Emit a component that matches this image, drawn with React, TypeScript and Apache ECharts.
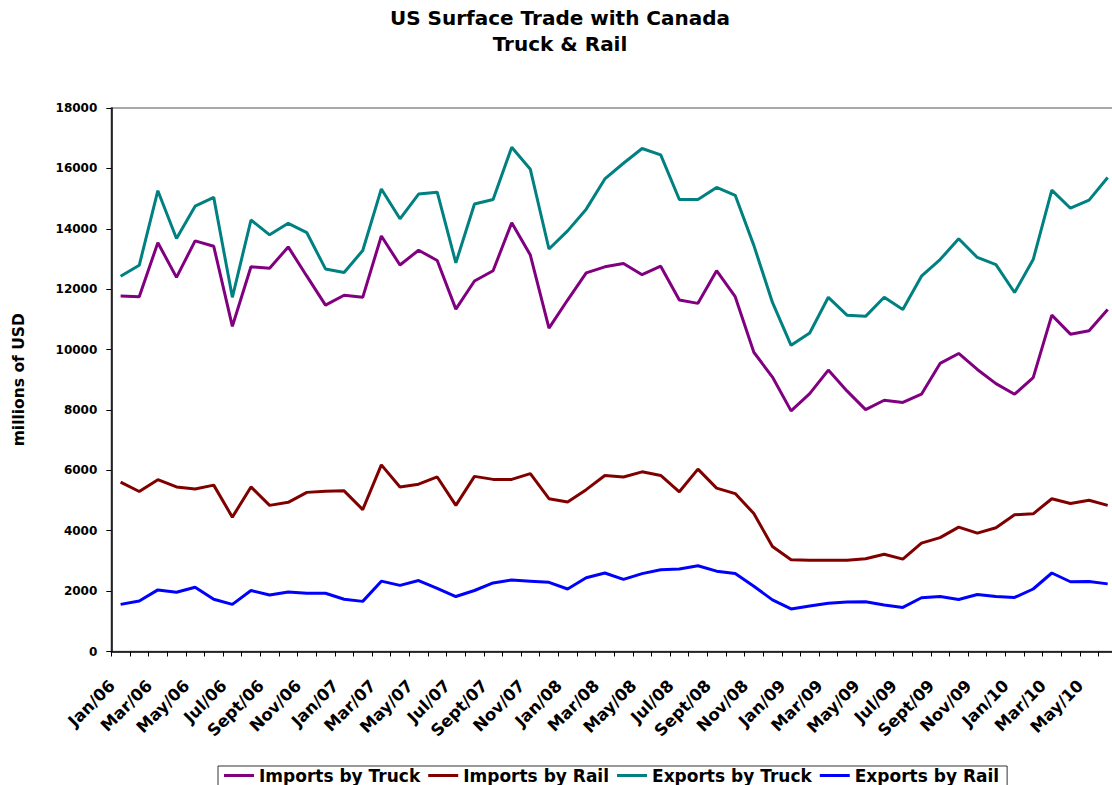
import React, { useEffect, useRef } from "react";
import * as echarts from "echarts";

const months = [
  "Jan/06","Feb/06","Mar/06","Apr/06","May/06","Jun/06","Jul/06","Aug/06","Sept/06","Oct/06","Nov/06","Dec/06",
  "Jan/07","Feb/07","Mar/07","Apr/07","May/07","Jun/07","Jul/07","Aug/07","Sept/07","Oct/07","Nov/07","Dec/07",
  "Jan/08","Feb/08","Mar/08","Apr/08","May/08","Jun/08","Jul/08","Aug/08","Sept/08","Oct/08","Nov/08","Dec/08",
  "Jan/09","Feb/09","Mar/09","Apr/09","May/09","Jun/09","Jul/09","Aug/09","Sept/09","Oct/09","Nov/09","Dec/09",
  "Jan/10","Feb/10","Mar/10","Apr/10","May/10","Jun/10",
];

const importsByTruck = [
  11770, 11750, 13540, 12390, 13600, 13420, 10770, 12740, 12690, 13400, 12430, 11470,
  11800, 11730, 13760, 12800, 13290, 12950, 11340, 12270, 12610, 14200, 13130, 10710,
  11640, 12540, 12740, 12850, 12480, 12760, 11640, 11530, 12610, 11750, 9910, 9090,
  7970, 8540, 9320, 8630, 8010, 8320, 8250, 8520, 9540, 9870, 9340, 8870,
  8520, 9070, 11140, 10510, 10620, 11330,
];

const importsByRail = [
  5610, 5300, 5690, 5450, 5380, 5510, 4450, 5450, 4840, 4940, 5270, 5310,
  5320, 4700, 6180, 5450, 5540, 5780, 4840, 5800, 5700, 5700, 5890, 5060,
  4950, 5360, 5830, 5780, 5950, 5830, 5290, 6040, 5410, 5230, 4570, 3480,
  3040, 3020, 3020, 3020, 3070, 3220, 3060, 3590, 3770, 4120, 3920, 4100,
  4530, 4560, 5060, 4900, 5010, 4840,
];

const exportsByTruck = [
  12430, 12790, 15260, 13680, 14750, 15040, 11730, 14290, 13800, 14180, 13870, 12670,
  12550, 13280, 15320, 14330, 15150, 15210, 12870, 14820, 14970, 16700, 15970, 13330,
  13930, 14650, 15650, 16170, 16660, 16450, 14970, 14970, 15370, 15110, 13450, 11560,
  10140, 10550, 11730, 11140, 11100, 11730, 11330, 12430, 12980, 13670, 13050, 12810,
  11890, 12980, 15280, 14680, 14950, 15700,
];

const exportsByRail = [
  1560, 1670, 2040, 1960, 2130, 1730, 1560, 2020, 1870, 1970, 1930, 1930,
  1730, 1660, 2330, 2190, 2350, 2090, 1820, 2020, 2270, 2370, 2330, 2290,
  2070, 2440, 2600, 2390, 2580, 2710, 2730, 2840, 2660, 2580, 2160, 1710,
  1410, 1510, 1600, 1640, 1650, 1540, 1460, 1780, 1820, 1720, 1890, 1820,
  1790, 2070, 2600, 2310, 2320, 2240,
];

const seriesNames = ["Imports by Truck", "Imports by Rail", "Exports by Truck", "Exports by Rail"];
const seriesColors = ["#800080", "#800000", "#008080", "#0000FF"];

const FONT = "'DejaVu Sans', Verdana, sans-serif";

export default function App() {
  const ref = useRef<HTMLDivElement>(null);

  useEffect(() => {
    if (!ref.current) return;
    const chart = echarts.init(ref.current, null, { renderer: "svg" });
    const dataSets = [importsByTruck, importsByRail, exportsByTruck, exportsByRail];
    chart.setOption({
      animation: false,
      backgroundColor: "#ffffff",
      textStyle: { fontFamily: FONT },
      title: {
        text: "US Surface Trade with Canada\nTruck & Rail",
        left: "center",
        top: 5,
        padding: 0,
        textStyle: {
          fontFamily: FONT,
          fontWeight: "bold",
          fontSize: 20,
          lineHeight: 26,
          color: "#000",
        },
      },
      legend: {
        data: seriesNames.map((name) => ({ name, icon: "rect" })),
        left: 218,
        top: 766,
        orient: "horizontal",
        padding: [1, 8, 8, 6],
        itemGap: 8,
        itemWidth: 30,
        itemHeight: 3,
        borderColor: "#333",
        borderWidth: 1,
        textStyle: { fontFamily: FONT, fontWeight: "bold", fontSize: 17, lineHeight: 15, color: "#000" },
      },
      grid: {
        left: 111.3,
        right: 3,
        top: 108,
        bottom: 133.5,
        show: true,
        borderColor: "#8c8c8c",
        borderWidth: 1.5,
        backgroundColor: "transparent",
      },
      xAxis: {
        type: "category",
        data: months,
        boundaryGap: true,
        axisLine: { lineStyle: { color: "#000", width: 1.5 } },
        axisTick: { show: true, interval: 0, length: 5, lineStyle: { color: "#000", width: 1 } },
        axisLabel: {
          interval: 1,
          rotate: 45,
          margin: 23,
          padding: [0, 12, 0, 0],
          fontFamily: FONT,
          fontWeight: "bold",
          fontSize: 16.5,
          color: "#000",
        },
        splitLine: { show: false },
      },
      yAxis: {
        type: "value",
        min: 0,
        max: 18000,
        interval: 2000,
        name: "millions of USD",
        nameLocation: "middle",
        nameGap: 84,
        nameRotate: 90,
        nameTextStyle: { fontFamily: FONT, fontWeight: "bold", fontSize: 15.5, color: "#000" },
        axisLine: { show: true, lineStyle: { color: "#000", width: 1.5 } },
        axisTick: { show: true, length: 5, lineStyle: { color: "#000", width: 1 } },
        axisLabel: {
          margin: 14,
          formatter: (v: number) => String(v),
          fontFamily: FONT,
          fontWeight: "bold",
          fontSize: 12,
          color: "#000",
        },
        splitLine: { show: false },
      },
      series: seriesNames.map((name, i) => ({
        name,
        type: "line",
        data: dataSets[i],
        symbol: "none",
        showSymbol: false,
        lineStyle: { color: seriesColors[i], width: 3 },
        itemStyle: { color: seriesColors[i] },
      })),
    });
    return () => chart.dispose();
  }, []);

  return (
    <div
      ref={ref}
      style={{ position: "fixed", left: 0, top: 0, width: 1120, height: 785 }}
    />
  );
}
